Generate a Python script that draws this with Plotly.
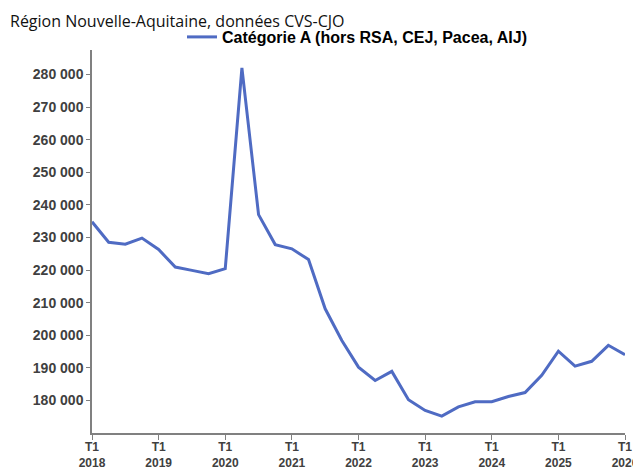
import plotly.graph_objects as go

quarters = list(range(33))
values = [234800, 228500, 227900, 229800, 226300, 220900, 219900, 218900, 220400,
          282000, 237000, 227800, 226500, 223200, 208100, 198400, 190200, 186100,
          188900, 180200, 176900, 175200, 178000, 179600, 179600, 181200, 182400,
          187700, 195100, 190500, 192000, 196900, 194000]
tick_pos = [0, 4, 8, 12, 16, 20, 24, 28, 32]
tick_text = ["T1<br>%d" % y for y in range(2018, 2027)]
y_ticks = list(range(180000, 290000, 10000))
y_text = ["%d 000" % (v // 1000) for v in y_ticks]

W, H = 633, 463  # page body has an 8px margin
L, R, T, B = 84, 16, 42, 38
pw, ph = W - L - R, H - T - B

fig = go.Figure()
fig.add_trace(go.Scatter(x=quarters, y=values, mode="lines",
                         name="Catégorie A (hors RSA, CEJ, Pacea, AIJ)",
                         line=dict(color="#4F6BC3", width=3)))

fig.update_layout(
    width=W, height=H,
    margin=dict(l=L, r=R, t=T, b=B, autoexpand=False),
    paper_bgcolor="white", plot_bgcolor="white",
    showlegend=True,
    legend=dict(orientation="h", x=(174 - L) / pw, xanchor="left",
                yref="container", y=1 - 29 / H, yanchor="middle",
                font=dict(family="Liberation Sans, Arial", size=16, color="#000000", weight="bold"),
                itemwidth=30),
    annotations=[dict(text="Région Nouvelle-Aquitaine, données CVS-CJO",
                      xref="paper", yref="paper", x=-L / pw, y=1 + (T - 0.5) / ph, xanchor="left",
                      yanchor="top", showarrow=False,
                      font=dict(family="Open Sans, sans-serif", size=16, color="#111111"))],
    xaxis=dict(range=[0, 32], tickvals=tick_pos, ticktext=tick_text, automargin=False,
               showgrid=False, zeroline=False, showline=True, linecolor="#808080",
               linewidth=1.5, ticks="outside", ticklen=5, tickcolor="#808080",
               ticklabelstandoff=-3, ticklabeloverflow="allow",
               tickfont=dict(family="Liberation Sans, Arial", size=12, color="#404040", weight="bold"),
               tickangle=0),
    yaxis=dict(range=[170000, 287500], tickvals=y_ticks, ticktext=y_text, automargin=False,
               showgrid=False, zeroline=False, showline=True, linecolor="#808080",
               linewidth=1.5, ticks="outside", ticklen=4, tickcolor="#808080",
               tickfont=dict(family="Liberation Sans, Arial", size=14, color="#404040", weight="bold")),
)
fig.write_html("out.html")
